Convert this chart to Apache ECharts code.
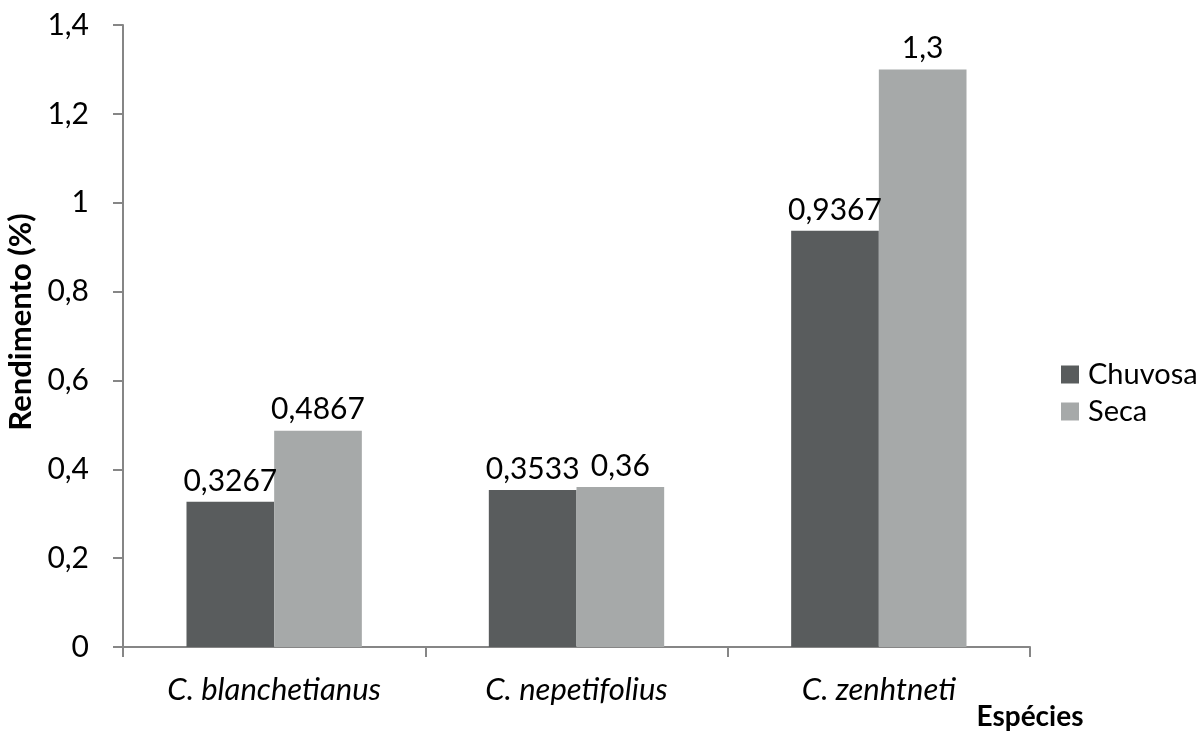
<!DOCTYPE html>
<html><head><meta charset="utf-8">
<script src="https://cdn.jsdelivr.net/npm/echarts@6/dist/echarts.min.js"></script>
<style>html,body{margin:0;padding:0;background:#fff}#c{width:1204px;height:733px}</style>
</head><body><div id="c"></div>
<script>
const categories = ['C. blanchetianus', 'C. nepetifolius', 'C. zenhtneti'];
const chuvosa = [0.3267, 0.3533, 0.9367];
const seca = [0.4867, 0.36, 1.3];
const seriesNames = ['Chuvosa', 'Seca'];
const FONT = 'Lato, "Open Sans", sans-serif';
const fmt = v => String(v).replace('.', ',');
const chart = echarts.init(document.getElementById('c'), null, {renderer:'canvas'});
const lbl = {show:true, position:'top', distance:6, color:'#000', fontSize:30, fontFamily:FONT, formatter:p=>fmt(p.value)};
chart.setOption({
  animation:false,
  textStyle:{fontFamily:FONT},
  grid:{left:123, right:174, top:25, bottom:86, containLabel:false, outerBoundsMode:'none'},
  legend:{orient:'vertical', left:1056, top:355, itemWidth:18, itemHeight:18, itemGap:8,
    icon:'rect', textStyle:{fontSize:29, color:'#000', fontFamily:FONT, padding:[0,0,0,4]}, data:seriesNames},
  xAxis:{type:'category', data:categories,
    name:'Espécies', nameLocation:'end', nameGap:0,
    nameTextStyle:{fontSize:28, fontWeight:'bold', color:'#000', align:'center', verticalAlign:'top', padding:[56,0,0,0]},
    axisLine:{lineStyle:{color:'#868686', width:2}},
    axisTick:{show:true, length:10, lineStyle:{color:'#868686', width:2}},
    axisLabel:{fontSize:31, fontStyle:'italic', color:'#000', margin:27}},
  yAxis:{type:'value', min:0, max:1.4, interval:0.2,
    name:'Rendimento (%)', nameLocation:'middle', nameGap:87, nameRotate:90,
    nameTextStyle:{fontSize:31, fontWeight:'bold', color:'#000', padding:[0,0,0,28]},
    axisLine:{show:true, lineStyle:{color:'#868686', width:2}},
    axisTick:{show:true, length:10, lineStyle:{color:'#868686', width:2}},
    splitLine:{show:false},
    axisLabel:{fontSize:30, color:'#000', margin:34, formatter:v=>fmt(Math.round(v*10)/10)}},
  series:[
    {name:seriesNames[0], type:'bar', data:chuvosa, itemStyle:{color:'#595c5d'}, barGap:'0%', barCategoryGap:'42%', label:lbl},
    {name:seriesNames[1], type:'bar', data:seca, itemStyle:{color:'#a6a9a9'}, barGap:'0%', barCategoryGap:'42%', label:lbl}
  ]
});
</script></body></html>
